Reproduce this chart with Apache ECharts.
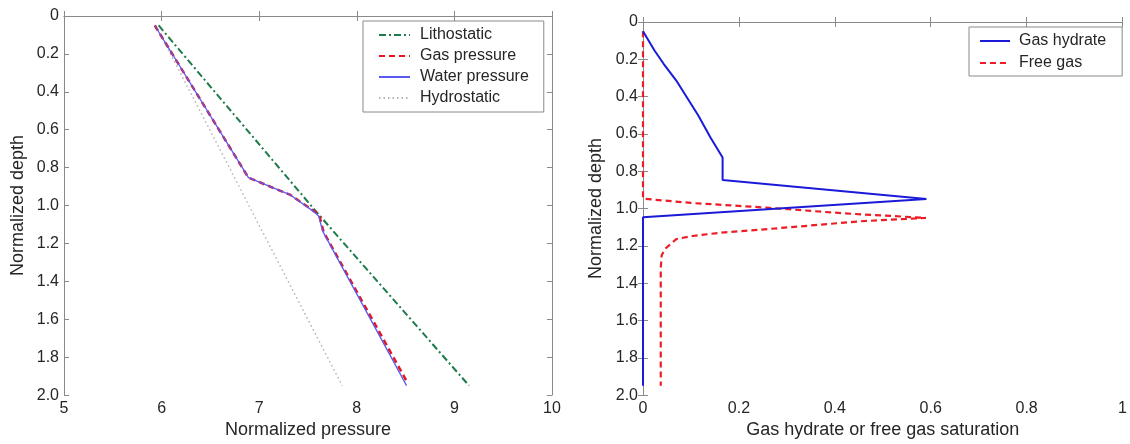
<!DOCTYPE html>
<html>
<head>
<meta charset="utf-8">
<script src="https://cdn.jsdelivr.net/npm/echarts@6.0.0/dist/echarts.min.js"></script>
<style>
  html, body { margin: 0; padding: 0; background: #fff; }
  #main { width: 1130px; height: 444px; }
</style>
</head>
<body>
<div id="main"></div>
<script>
// left panel: pressure profiles (depth down the y axis)
var lithoPressure = [5.97, 7.58, 9.15];
var lithoDepth = [0.05, 1.03, 1.95];
var gasPressure = [5.93, 6.89, 7.32, 7.58, 7.62, 7.66, 8.52];
var gasDepth = [0.05, 0.853, 0.944, 1.036, 1.06, 1.14, 1.935];
var waterPressure = [5.93, 6.89, 7.32, 7.57, 7.61, 7.65, 8.51];
var waterDepth = [0.05, 0.853, 0.944, 1.036, 1.056, 1.135, 1.95];
var hydroPressure = [5.94, 7.85];
var hydroDepth = [0.05, 1.95];

// right panel: saturations
var hydrateSat = [0, 0.024, 0.043, 0.071, 0.093, 0.115, 0.141, 0.166, 0.166, 0.166, 0.591, 0, 0];
var hydrateDepth = [0.05, 0.153, 0.224, 0.32, 0.41, 0.50, 0.62, 0.726, 0.753, 0.847, 0.949, 1.047, 1.95];
var freeGasSat = [0, 0, 0.10, 0.257, 0.42, 0.59, 0.455, 0.284, 0.16, 0.104, 0.07, 0.046, 0.039, 0.037, 0.037];
var freeGasDepth = [0.05, 0.947, 0.97, 0.995, 1.026, 1.05, 1.068, 1.105, 1.13, 1.147, 1.163, 1.216, 1.25, 1.32, 1.95];

var pressureTicks = [5, 10, 1];   // min, max, step
var saturationTicks = [0, 1, 0.2];
var depthTicks = [0, 2, 0.2];

function pairs(xs, ys) {
  return xs.map(function (x, i) { return [x, ys[i]]; });
}

var font = 'Liberation Sans, Arial, sans-serif';
var textColor = '#262626';
var frameColor = '#8a8a8a';

function depthLabel(v) {
  return v === 0 ? '0' : v.toFixed(1);
}

function xAxisPair(grid, ticks, name, gap) {
  var base = {
    type: 'value',
    gridIndex: grid,
    min: ticks[0],
    max: ticks[1],
    interval: ticks[2],
    splitLine: { show: false },
    axisLine: { show: true, lineStyle: { color: frameColor, width: 1 } },
    axisTick: { show: true, inside: true, length: 5, lineStyle: { color: frameColor } }
  };
  var bottom = Object.assign({}, base, {
    position: 'bottom',
    name: name,
    nameLocation: 'middle',
    nameGap: gap,
    nameTextStyle: { fontSize: 18, color: textColor, fontFamily: font },
    axisLabel: { margin: 5, fontSize: 16, color: textColor, fontFamily: font }
  });
  var top = Object.assign({}, base, {
    position: 'top',
    axisLabel: { show: false }
  });
  return [bottom, top];
}

function yAxisPair(grid, name, gap) {
  var base = {
    type: 'value',
    gridIndex: grid,
    inverse: true,
    min: depthTicks[0],
    max: depthTicks[1],
    interval: depthTicks[2],
    splitLine: { show: false },
    axisLine: { show: true, lineStyle: { color: frameColor, width: 1 } },
    axisTick: { show: true, inside: true, length: 5, lineStyle: { color: frameColor } }
  };
  var left = Object.assign({}, base, {
    position: 'left',
    name: name,
    nameLocation: 'middle',
    nameGap: gap,
    nameTextStyle: { fontSize: 18, color: textColor, fontFamily: font },
    axisLabel: { margin: 5, fontSize: 16, color: textColor, fontFamily: font, formatter: depthLabel }
  });
  var right = Object.assign({}, base, {
    position: 'right',
    axisLabel: { show: false }
  });
  return [left, right];
}

var chart = echarts.init(document.getElementById('main'), null, { renderer: 'canvas' });

var option = {
  backgroundColor: '#ffffff',
  animation: false,
  grid: [
    { left: 64, top: 16, width: 488, height: 383 },
    { left: 643, top: 22, width: 483, height: 380 }
  ],
  xAxis: xAxisPair(0, pressureTicks, 'Normalized pressure', 22)
    .concat(xAxisPair(1, saturationTicks, 'Gas hydrate or free gas saturation', 21)),
  yAxis: yAxisPair(0, 'Normalized depth', 37)
    .concat(yAxisPair(1, 'Normalized depth', 38)),
  legend: [{
    data: ['Lithostatic', 'Gas pressure', 'Water pressure', 'Hydrostatic'],
    orient: 'vertical',
    left: 363,
    top: 21,
    padding: [6, 15, 6, 15],
    itemWidth: 31,
    itemHeight: 14,
    itemGap: 5,
    borderColor: '#8a8a8a',
    borderWidth: 1,
    backgroundColor: '#fff',
    selectedMode: false,
    itemStyle: { opacity: 0 },
    textStyle: { fontSize: 16, lineHeight: 14, color: textColor, fontFamily: font, padding: [0, 0, 0, 5] }
  }, {
    data: ['Gas hydrate', 'Free gas'],
    orient: 'vertical',
    left: 969,
    top: 27,
    padding: [6, 16, 5, 10],
    itemWidth: 30,
    itemHeight: 14,
    itemGap: 6,
    borderColor: '#8a8a8a',
    borderWidth: 1,
    backgroundColor: '#fff',
    selectedMode: false,
    itemStyle: { opacity: 0 },
    textStyle: { fontSize: 16, lineHeight: 14, color: textColor, fontFamily: font, padding: [0, 0, 0, 4] }
  }],
  series: [{
    name: 'Hydrostatic',
    type: 'line',
    xAxisIndex: 0,
    yAxisIndex: 0,
    symbol: 'none',
    data: pairs(hydroPressure, hydroDepth),
    lineStyle: { color: '#b4b4b4', width: 1.5, type: [1.5, 3] },
    itemStyle: { color: '#b4b4b4' }
  }, {
    name: 'Lithostatic',
    type: 'line',
    xAxisIndex: 0,
    yAxisIndex: 0,
    symbol: 'none',
    data: pairs(lithoPressure, lithoDepth),
    lineStyle: { color: '#1e7b4b', width: 2, type: [7, 3, 2, 3] },
    itemStyle: { color: '#1e7b4b' }
  }, {
    name: 'Gas pressure',
    type: 'line',
    xAxisIndex: 0,
    yAxisIndex: 0,
    symbol: 'none',
    data: pairs(gasPressure, gasDepth),
    lineStyle: { color: '#e3161e', width: 2.5, type: [6, 4] },
    itemStyle: { color: '#e3161e' }
  }, {
    name: 'Water pressure',
    type: 'line',
    xAxisIndex: 0,
    yAxisIndex: 0,
    symbol: 'none',
    data: pairs(waterPressure, waterDepth),
    lineStyle: { color: '#5a5af0', width: 1.3 },
    itemStyle: { color: '#5a5af0' }
  }, {
    name: 'Free gas',
    type: 'line',
    xAxisIndex: 2,
    yAxisIndex: 2,
    symbol: 'none',
    data: pairs(freeGasSat, freeGasDepth),
    lineStyle: { color: '#ee1c24', width: 2.2, type: [6, 4] },
    itemStyle: { color: '#ee1c24' }
  }, {
    name: 'Gas hydrate',
    type: 'line',
    xAxisIndex: 2,
    yAxisIndex: 2,
    symbol: 'none',
    data: pairs(hydrateSat, hydrateDepth),
    lineStyle: { color: '#1a1ad8', width: 2 },
    itemStyle: { color: '#1a1ad8' }
  }]
};

chart.setOption(option);
</script>
</body>
</html>
